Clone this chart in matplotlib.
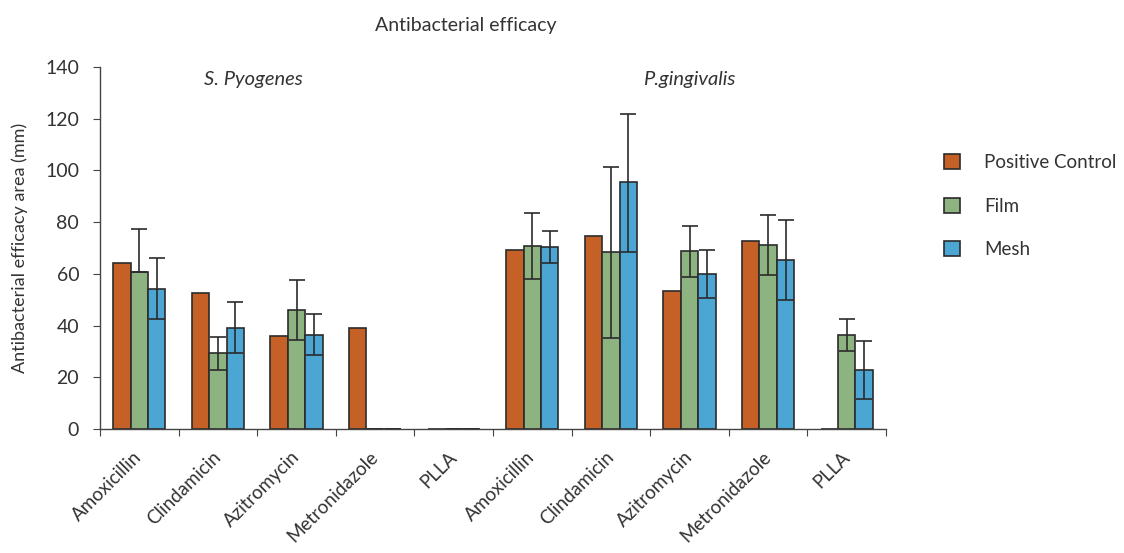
import matplotlib.pyplot as plt
import numpy as np

plt.rcParams['font.family'] = ['Lato', 'DejaVu Sans']

categories = ["Amoxicillin", "Clindamicin", "Azitromycin", "Metronidazole", "PLLA",
              "Amoxicillin", "Clindamicin", "Azitromycin", "Metronidazole", "PLLA"]
series = ["Positive Control", "Film", "Mesh"]

positive = [64.1, 52.5, 36.0, 39.1, 0, 69.1, 74.8, 53.5, 72.6, 0]
film = [60.7, 29.3, 46.0, 0, 0, 70.9, 68.3, 68.7, 71.3, 36.5]
mesh = [54.3, 39.2, 36.5, 0, 0, 70.4, 95.4, 60.1, 65.4, 22.7]

# error bars (lower, upper)
film_err_lo = [0, 6.4, 11.7, 0, 0, 12.9, 33.1, 9.8, 11.6, 6.2]
film_err_hi = [16.8, 6.4, 11.7, 0, 0, 12.6, 33.1, 9.9, 11.6, 6.2]
mesh_err_lo = [11.9, 9.9, 7.9, 0, 0, 6.3, 26.8, 9.3, 15.4, 11.1]
mesh_err_hi = [11.7, 9.9, 8.1, 0, 0, 6.3, 26.5, 9.0, 15.3, 11.2]

colors = ["#C56127", "#8DB380", "#4BA6D3"]
edge = "#2b2b2b"
txt = "#333333"

fig = plt.figure(figsize=(11.24, 5.53), dpi=100)
ax = fig.add_axes([100 / 1124, 1 - 429 / 553, 786 / 1124, 362 / 553])

x = np.arange(len(categories))
w = 0.222
ekw = dict(ecolor="#2b2b2b", elinewidth=1.2, capsize=5.5, capthick=1.2)

ax.bar(x - w, positive, w, color=colors[0], edgecolor=edge, linewidth=1.2, label=series[0])
ax.bar(x, film, w, color=colors[1], edgecolor=edge, linewidth=1.2, label=series[1],
       yerr=[film_err_lo, film_err_hi], error_kw=ekw)
ax.bar(x + w, mesh, w, color=colors[2], edgecolor=edge, linewidth=1.2, label=series[2],
       yerr=[mesh_err_lo, mesh_err_hi], error_kw=ekw)

ax.set_xlim(-0.5, 9.5)
ax.set_ylim(0, 140)
ax.set_yticks(np.arange(0, 141, 20))
ax.set_xticks(np.arange(-0.5, 10, 1))
ax.set_xticklabels([])
ax.set_xticks(x, minor=True)
ax.set_xticklabels(categories, minor=True, rotation=45, ha="right", va="center",
                   rotation_mode="anchor", fontsize=13.5, color=txt)
ax.tick_params(axis="x", which="minor", length=0, pad=18)
ax.tick_params(axis="x", which="major", length=5, direction="out", color="#444444")
ax.tick_params(axis="y", length=5, labelsize=14, colors=txt, pad=10)
ax.tick_params(axis="y", color="#444444")

for s in ["top", "right"]:
    ax.spines[s].set_visible(False)
for s in ["left", "bottom"]:
    ax.spines[s].set_color("#444444")
    ax.spines[s].set_linewidth(1.0)

ax.set_ylabel("Antibacterial efficacy area (mm)", fontsize=13, color=txt, labelpad=12)

fig.text(466 / 1124, 1 - 25 / 553, "Antibacterial efficacy", ha="center", va="center",
         fontsize=14, color=txt)
ax.text(1.45, 135, "S. Pyogenes", style="italic", ha="center", va="center",
        fontsize=14.5, color=txt)
ax.text(7.0, 135, "P.gingivalis", style="italic", ha="center", va="center",
        fontsize=14.5, color=txt)

leg = ax.legend(loc="upper left", bbox_to_anchor=(1.052, 0.805), frameon=False,
                fontsize=13.5, handlelength=0.85, handleheight=0.85, labelspacing=1.4,
                handletextpad=1.3)
for t in leg.get_texts():
    t.set_color(txt)

fig.savefig("out.png", dpi=100)
